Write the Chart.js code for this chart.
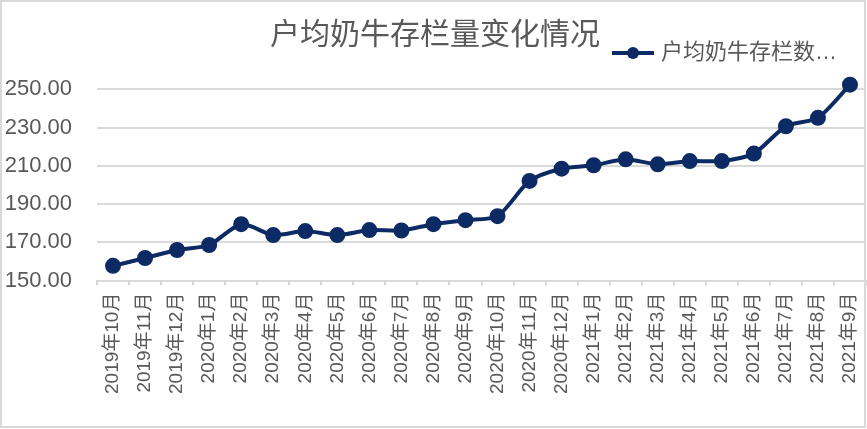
<!DOCTYPE html>
<html>
<head>
<meta charset="utf-8">
<script src="https://cdn.jsdelivr.net/npm/chart.js@4"></script>
<style>
  body { margin: 0; background: #fff; }
  #wrap { position: relative; width: 867px; height: 429px; }
  #frame { position: absolute; left: 0; top: 0; width: 866px; height: 428px; border: 2px solid #d9d9d9; box-sizing: border-box; pointer-events: none; }
</style>
</head>
<body>
<div id="wrap">
  <canvas id="cowChart" width="867" height="429"></canvas>
  <div id="frame"></div>
</div>
<script>
const months = [
  "2019年10月", "2019年11月", "2019年12月",
  "2020年1月", "2020年2月", "2020年3月", "2020年4月", "2020年5月", "2020年6月",
  "2020年7月", "2020年8月", "2020年9月", "2020年10月", "2020年11月", "2020年12月",
  "2021年1月", "2021年2月", "2021年3月", "2021年4月", "2021年5月", "2021年6月",
  "2021年7月", "2021年8月", "2021年9月"
]
const herdSize = [
  157.7, 161.8, 166.0, 168.6, 179.5, 173.8, 175.9, 173.8, 176.4,
  176.2, 179.5, 181.6, 183.7, 202.1, 208.5, 210.3, 213.4, 210.8,
  212.5, 212.5, 216.4, 230.7, 235.1, 252.4
]
const yTicks = [150, 170, 190, 210, 230, 250]

const navy = "#0c2a63"
const grey = "#595959"
const fontFamily = "'Liberation Sans', 'Noto Sans CJK SC', sans-serif"

// legend marker: line with a dot, like the office chart legend
let marker = document.createElement("canvas")
marker.width = 42
marker.height = 14
let mctx = marker.getContext("2d")
mctx.strokeStyle = navy
mctx.lineWidth = 4
mctx.beginPath()
mctx.moveTo(0, 7)
mctx.lineTo(42, 7)
mctx.stroke()
mctx.fillStyle = navy
mctx.beginPath()
mctx.arc(21, 7, 6, 0, Math.PI * 2)
mctx.fill()

// pull the legend a bit left of the right edge
const legendShift = {
  id: "legendShift",
  afterLayout(chart) {
    chart.legend.left -= 25
    chart.legend.right -= 25
  }
}

let ctx = document.getElementById("cowChart").getContext("2d")

let chart = new Chart(ctx, {
  type: "line",
  data: {
    labels: months,
    datasets: [
      {
        label: "户均奶牛存栏数…",
        data: herdSize,
        borderColor: navy,
        backgroundColor: navy,
        borderWidth: 4,
        pointRadius: 6,
        pointBackgroundColor: navy,
        pointBorderColor: navy,
        tension: 0.25,
      },
    ],
  },
  plugins: [legendShift],
  options: {
    responsive: false,
    devicePixelRatio: 1,
    animation: false,
    layout: {
      autoPadding: false,
      padding: { left: 4, right: 1, top: 0, bottom: 28 },
    },
    plugins: {
      title: {
        display: true,
        text: "户均奶牛存栏量变化情况",
        color: grey,
        font: { family: fontFamily, size: 30, weight: "normal" },
        padding: { top: 18, bottom: -16 },
      },
      legend: {
        display: true,
        position: "top",
        align: "end",
        labels: {
          color: grey,
          font: { family: fontFamily, size: 22 },
          usePointStyle: true,
          pointStyle: marker,
          pointStyleWidth: 34,
          padding: 4,
        },
      },
      tooltip: { enabled: false },
    },
    scales: {
      x: {
        offset: true,
        afterFit: (axis) => {
          axis.paddingLeft = 0
          axis.paddingRight = 0
        },
        grid: {
          display: true,
          drawOnChartArea: false,
          drawTicks: true,
          tickLength: 5,
          offset: true,
          color: "#d9d9d9",
          lineWidth: 2,
        },
        border: { display: true, color: "#d9d9d9", width: 2 },
        ticks: {
          autoSkip: false,
          minRotation: 90,
          maxRotation: 90,
          padding: 7,
          color: grey,
          font: { family: fontFamily, size: 19 },
        },
      },
      y: {
        min: 150,
        max: 258,
        afterBuildTicks: (axis) => {
          axis.ticks = yTicks.map((v) => ({ value: v }))
        },
        afterFit: (axis) => {
          axis.width = 93
        },
        grid: {
          color: "#d9d9d9",
          lineWidth: 2,
          drawTicks: false,
        },
        border: { display: false },
        ticks: {
          padding: 25,
          color: grey,
          font: { family: fontFamily, size: 22 },
          callback: (v) => v.toFixed(2),
        },
      },
    },
  },
})
</script>
</body>
</html>
